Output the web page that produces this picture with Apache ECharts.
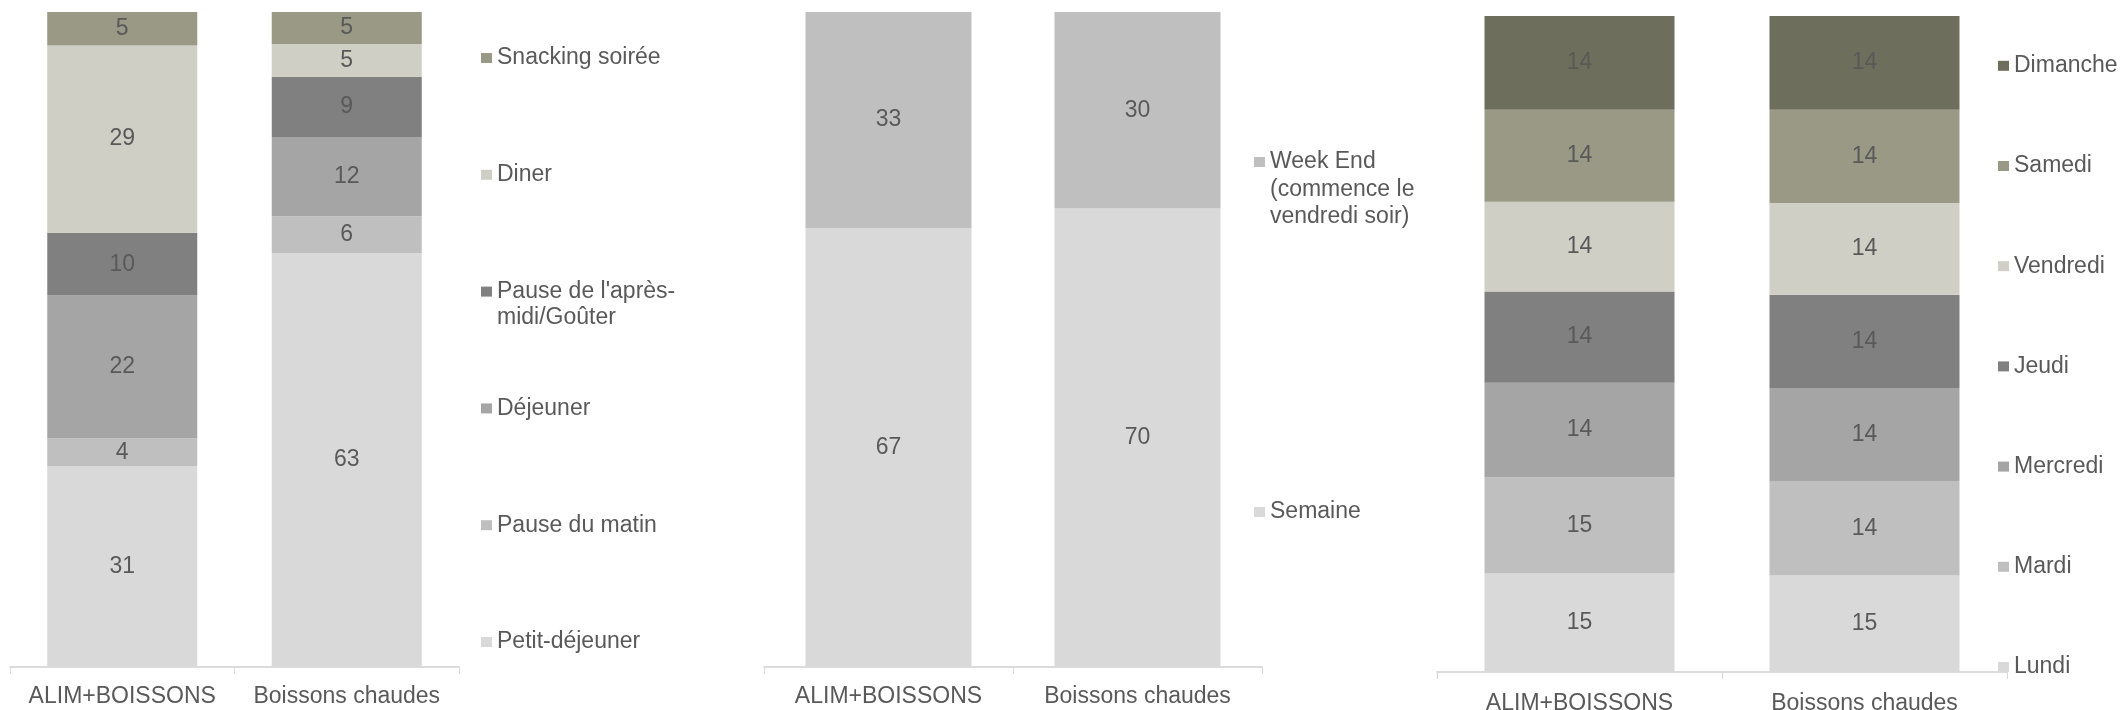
<!DOCTYPE html>
<html>
<head>
<meta charset="utf-8">
<script src="https://cdn.jsdelivr.net/npm/echarts@6/dist/echarts.min.js"></script>
<style>
  body { margin: 0; background: #fff; }
  #chart { width: 2123px; height: 710px; }
</style>
</head>
<body>
<div id="chart"></div>
<script>
// categories (x axis of each of the 3 panels)
const categories = ['ALIM+BOISSONS', 'Boissons chaudes'];

// panel 1 : moments de consommation (bottom -> top)
const mealNames = ['Petit-déjeuner', 'Pause du matin', 'Déjeuner', "Pause de l'après-midi/Goûter", 'Diner', 'Snacking soirée'];
const mealAlim = [30.7, 4.2, 21.8, 9.6, 28.6, 5.1];
const mealBoissons = [63.2, 5.6, 12.1, 9.2, 5.0, 4.9];

// panel 2 : semaine / week end
const periodNames = ['Semaine', 'Week End (commence le vendredi soir)'];
const periodAlim = [67, 33];
const periodBoissons = [70, 30];

// panel 3 : jours
const dayNames = ['Lundi', 'Mardi', 'Mercredi', 'Jeudi', 'Vendredi', 'Samedi', 'Dimanche'];
const dayAlim = [15.0, 14.7, 14.4, 13.9, 13.7, 14.0, 14.3];
const dayBoissons = [14.7, 14.4, 14.2, 14.2, 14.0, 14.2, 14.3];

const mealColors = ['#d9d9d9', '#bfbfbf', '#a5a5a5', '#808080', '#cfcfc6', '#999985'];
const periodColors = ['#d9d9d9', '#bfbfbf'];
const dayColors = ['#d9d9d9', '#bfbfbf', '#a5a5a5', '#808080', '#cfcfc6', '#999985', '#6d6e5c'];

const font = "'Liberation Sans', Arial, sans-serif";
const txt = '#595959';
const fs = 23;

// legend text line breaks, as in the original
const wrap = {
    "Pause de l'après-midi/Goûter": "Pause de l'après-\nmidi/Goûter",
    'Week End (commence le vendredi soir)': 'Week End\n(commence le\nvendredi soir)'
};

function makeSeries(names, alim, boissons, colors, idx, stack, barWidth) {
    return names.map(function (n, i) {
        return {
            name: n,
            type: 'bar',
            stack: stack,
            xAxisIndex: idx,
            yAxisIndex: idx,
            barWidth: barWidth,
            data: [alim[i], boissons[i]],
            itemStyle: { color: colors[i] },
            label: {
                show: true,
                position: 'inside',
                color: txt,
                fontSize: fs,
                fontFamily: font,
                formatter: function (p) { return Math.round(p.value); }
            }
        };
    });
}

// one legend per series so that each entry sits where excel put it.
// multi-line entries get blank lines in front so the marker stays on the first line
function makeLegends(names, left, firstCenter, step, lineH) {
    return names.map(function (n, i) {
        const text = wrap[n] || n;
        const lines = text.split('\n').length;
        const shown = '\n'.repeat(lines - 1) + text;
        const c = firstCenter - i * step;
        return {
            data: [n],
            orient: 'vertical',
            left: left,
            top: c - (2 * lines - 1) * lineH / 2,
            padding: 0,
            icon: 'rect',
            itemWidth: 11,
            itemHeight: 10,
            selectedMode: false,
            formatter: function () { return shown; },
            textStyle: {
                color: txt,
                fontSize: fs,
                fontFamily: font,
                lineHeight: lineH
            }
        };
    });
}

const grids = [
    { left: 10, width: 449, top: 12, height: 655, outerBoundsMode: 'none' },
    { left: 764, width: 498, top: 12, height: 655, outerBoundsMode: 'none' },
    { left: 1437, width: 570, top: 16, height: 656, outerBoundsMode: 'none' }
];
const labelMargins = [18, 18, 20];

const xAxes = grids.map(function (g, i) {
    return {
        type: 'category',
        gridIndex: i,
        data: categories,
        axisLine: { lineStyle: { color: '#d0d0d0', width: 1.5 } },
        axisTick: { show: true, length: 7, lineStyle: { color: '#d9d9d9' } },
        axisLabel: { interval: 0, color: txt, fontSize: fs, fontFamily: font, margin: labelMargins[i] }
    };
});
const yAxes = grids.map(function (g, i) {
    return { type: 'value', gridIndex: i, min: 0, max: 100, show: false, splitLine: { show: false } };
});

const series = []
    .concat(makeSeries(mealNames, mealAlim, mealBoissons, mealColors, 0, 'meal', 150))
    .concat(makeSeries(periodNames, periodAlim, periodBoissons, periodColors, 1, 'period', 166))
    .concat(makeSeries(dayNames, dayAlim, dayBoissons, dayColors, 2, 'day', 190));

const legends = []
    .concat(makeLegends(mealNames, 481, 642, 116.8, 26))
    .concat(makeLegends(periodNames, 1254, 512, 350, 27.5))
    .concat(makeLegends(dayNames, 1998, 667, 100.2, 26));

const chart = echarts.init(document.getElementById('chart'));
chart.setOption({
    backgroundColor: '#fff',
    animation: false,
    textStyle: { fontFamily: font },
    grid: grids,
    xAxis: xAxes,
    yAxis: yAxes,
    legend: legends,
    series: series
});
</script>
</body>
</html>
